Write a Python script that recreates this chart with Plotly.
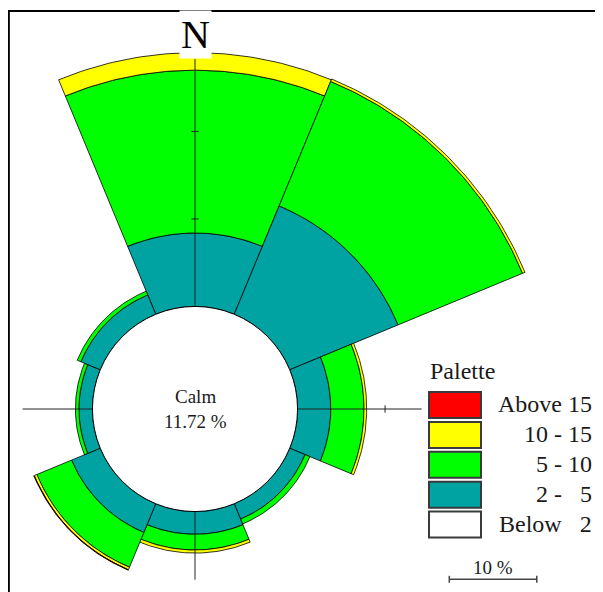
import numpy as np
import plotly.graph_objects as go

# wind rose data: frequency (%) per direction and speed class
directions = ["N", "NE", "E", "SE", "S", "SW", "W", "NW"]
dir_angles = [0, 45, 90, 135, 180, 225, 270, 315]
calm_pct = 11.72

class_labels = ["Above 15", "10 - 15", "5 - 10", "2 -\u00a0\u00a0 5", "Below\u00a0\u00a0 2"]
class_colors = ["#FF0000", "#FFFF00", "#00FF00", "#00A2A2", "#FFFFFF"]

freq_below_2 = [0, 0, 0, 0, 0, 0, 0, 0]
freq_2_5 = [8.4, 13.4, 3.8, 1.9, 2.6, 3.55, 1.55, 2.4]
freq_5_10 = [18.6, 15.4, 3.8, 0.6, 1.8, 4.3, 0.4, 0.45]
freq_10_15 = [2.0, 0.3, 0.3, 0.0, 0.35, 0.3, 0.0, 0.0]
freq_above_15 = [0, 0, 0, 0, 0, 0.06, 0, 0]

scale_pct = 10

# layout constants (pixel values are page coordinates; the page body adds an 8px margin)
OFF = 8
W, H = 603 - OFF, 592 - OFF
PX_PER_PCT = 8.75
CX, CY = 195, 409
FONT = "Liberation Serif, Times New Roman, serif"
TXT = "#1a1a1a"


def paper_x(px):
    return (px - OFF) / W


def paper_y(py):
    return 1 - (py - OFF) / H


def wedge(theta, r0, r1, half=22.5, n=60):
    a = np.radians(np.linspace(theta - half, theta + half, n))
    xs = np.concatenate([r1 * np.sin(a), r0 * np.sin(a[::-1])])
    ys = np.concatenate([r1 * np.cos(a), r0 * np.cos(a[::-1])])
    return np.append(xs, xs[0]), np.append(ys, ys[0])


fig = go.Figure()

bands = [
    (freq_below_2, class_colors[4]),
    (freq_2_5, class_colors[3]),
    (freq_5_10, class_colors[2]),
    (freq_10_15, class_colors[1]),
    (freq_above_15, class_colors[0]),
]

for i, theta in enumerate(dir_angles):
    r0 = calm_pct
    for values, color in bands:
        v = values[i]
        if v <= 0:
            continue
        xs, ys = wedge(theta, r0, r0 + v)
        fig.add_trace(go.Scatter(
            x=xs, y=ys,
            mode="lines",
            fill="toself",
            fillcolor=color,
            line=dict(color="black", width=0.8),
            hoverinfo="skip",
            showlegend=False,
        ))
        r0 += v

shapes = []

# cross-hair axes and 10 % ticks
axis_ext = dict(N=40.0, E=25.9, S=19.5, W=19.7)
axis_dirs = dict(N=(0, 1), E=(1, 0), S=(0, -1), W=(-1, 0))
for k, (dx, dy) in axis_dirs.items():
    L = axis_ext[k]
    shapes.append(dict(type="line", xref="x", yref="y", x0=0, y0=0, x1=dx * L, y1=dy * L,
                       line=dict(color="#222", width=1), layer="above"))
    for t in (scale_pct, 2 * scale_pct):
        r = calm_pct + t
        if r < L:
            tl = 0.42
            shapes.append(dict(type="line", xref="x", yref="y",
                               x0=dx * r - dy * tl, x1=dx * r + dy * tl,
                               y0=dy * r - dx * tl, y1=dy * r + dx * tl,
                               line=dict(color="#222", width=1), layer="above"))

# calm circle
shapes.append(dict(type="circle", xref="x", yref="y",
                   x0=-calm_pct, x1=calm_pct, y0=-calm_pct, y1=calm_pct,
                   fillcolor="white", line=dict(color="black", width=1), layer="above"))

# frame (open to the right and bottom)
shapes.append(dict(type="line", xref="paper", yref="paper", x0=0, x1=1.02,
                   y0=paper_y(11), y1=paper_y(11), line=dict(color="black", width=2)))
shapes.append(dict(type="line", xref="paper", yref="paper", x0=0.001, x1=0.001,
                   y0=paper_y(11), y1=-0.02, line=dict(color="black", width=2.5)))

annotations = [
    dict(x=0, y=(CY - 59) / PX_PER_PCT, xref="x", yref="y", text="N", showarrow=False,
         yanchor="bottom", bgcolor="white", borderpad=1,
         font=dict(family=FONT, size=40, color="black")),
    dict(x=0, y=(CY - 396) / PX_PER_PCT, xref="x", yref="y", text="Calm", showarrow=False,
         yanchor="middle", font=dict(family=FONT, size=19, color=TXT)),
    dict(x=0, y=(CY - 421) / PX_PER_PCT, xref="x", yref="y", text=f"{calm_pct:.2f} %",
         showarrow=False, yanchor="middle", font=dict(family=FONT, size=19, color=TXT)),
    dict(x=paper_x(428), y=paper_y(371), xref="paper", yref="paper", text="Palette",
         showarrow=False, xanchor="left", yanchor="middle",
         font=dict(family=FONT, size=24, color=TXT)),
]

# legend boxes
for j, (lab, col) in enumerate(zip(class_labels, class_colors)):
    yc = 405 + j * 29.9
    shapes.append(dict(type="rect", xref="paper", yref="paper",
                       x0=paper_x(429), x1=paper_x(481), y0=paper_y(yc - 13), y1=paper_y(yc + 13),
                       fillcolor=col, line=dict(color="#3a3a3a", width=2)))
    annotations.append(dict(x=paper_x(594), y=paper_y(yc - 1), xref="paper", yref="paper",
                            text=lab, showarrow=False, xanchor="right", yanchor="middle",
                            font=dict(family=FONT, size=24, color=TXT)))

# scale bar
sx0 = (449.3 - CX) / PX_PER_PCT
sy = (CY - 579.3) / PX_PER_PCT
shapes.append(dict(type="line", xref="x", yref="y", x0=sx0, x1=sx0 + scale_pct, y0=sy, y1=sy,
                   line=dict(color="#444", width=1.5)))
for xe in (sx0, sx0 + scale_pct):
    shapes.append(dict(type="line", xref="x", yref="y", x0=xe, x1=xe, y0=sy - 0.4, y1=sy + 0.4,
                       line=dict(color="#444", width=1.5)))
annotations.append(dict(x=sx0 + scale_pct / 2, y=(CY - 567) / PX_PER_PCT, xref="x", yref="y",
                        text=f"{scale_pct} %", showarrow=False, yanchor="middle",
                        font=dict(family=FONT, size=19, color=TXT)))

fig.update_layout(
    width=W, height=H,
    margin=dict(t=0, b=0, l=0, r=0),
    plot_bgcolor="white", paper_bgcolor="white",
    showlegend=False,
    shapes=shapes,
    annotations=annotations,
)
fig.update_xaxes(visible=False, range=[-(CX - OFF) / PX_PER_PCT, (W - (CX - OFF)) / PX_PER_PCT],
                 fixedrange=True)
fig.update_yaxes(visible=False, range=[-(H - (CY - OFF)) / PX_PER_PCT, (CY - OFF) / PX_PER_PCT],
                 fixedrange=True)

fig.write_html("out.html", config=dict(displayModeBar=False))
